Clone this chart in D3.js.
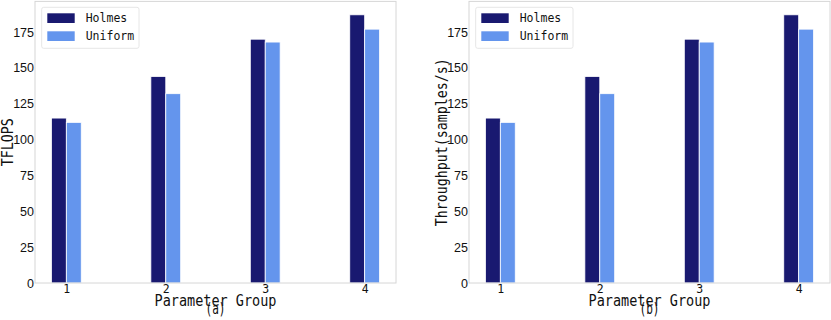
<!DOCTYPE html>
<html><head><meta charset="utf-8">
<script src="https://cdn.jsdelivr.net/npm/d3@7"></script>
<style>body{margin:0;background:#fff}</style>
</head><body>
<svg id="c" width="831" height="320"></svg>
<script>
const categories = ["1","2","3","4"];
const seriesNames = ["Holmes","Uniform"];
const holmesTflops = [115,144,170,187];
const uniformTflops = [112,132,168,177];
const holmesThroughput = [115,144,170,187];
const uniformThroughput = [112,132,168,177];
const yTicks = [0,25,50,75,100,125,150,175];
const colors = ["#191970","#6495ED"];
const panels = [
  {left:35, ylabel:"TFLOPS", ylen:48, sub:"(a)", data:[holmesTflops, uniformTflops]},
  {left:469, ylabel:"Throughput(samples/s)", ylen:168, sub:"(b)", data:[holmesThroughput, uniformThroughput]}
];
const mono = "'DejaVu Sans Mono', 'Liberation Mono', monospace";
const sans = "'Liberation Sans', Arial, sans-serif";
const svg = d3.select("#c");
const W = 361, yTop = 1.4, yBottom = 283;
panels.forEach(p => {
  const g = svg.append("g");
  const maxV = d3.max(p.data.flat());
  const x = d3.scaleLinear().domain([0.685, 4.315]).range([p.left, p.left + W]);
  const y = d3.scaleLinear().domain([0, maxV * 1.05]).range([yBottom, yTop]);
  const bw = 0.15;
  p.data.forEach((vals, si) => {
    g.selectAll(null).data(vals).enter().append("rect")
      .attr("x", (d,i) => x(i + 1 - bw + si*bw))
      .attr("width", x(bw) - x(0))
      .attr("y", d => y(d))
      .attr("height", d => y(0) - y(d))
      .attr("fill", colors[si])
      .attr("stroke", "#fff").attr("stroke-width", 0.8);
  });
  g.append("rect").attr("x", p.left).attr("y", yTop).attr("width", W).attr("height", yBottom - yTop)
    .attr("fill", "none").attr("stroke", "#d6d6d6").attr("stroke-width", 1);
  const ya = d3.axisLeft(y).tickValues(yTicks).tickSize(0).tickPadding(1);
  const yg = g.append("g").attr("transform", `translate(${p.left},0)`).call(ya);
  yg.select(".domain").remove();
  yg.selectAll("text").attr("font-family", sans).attr("font-size", 12.5).attr("fill", "#111");
  const xa = d3.axisBottom(x).tickValues([1,2,3,4]).tickFormat((d,i)=>categories[i]).tickSize(0).tickPadding(2);
  const xg = g.append("g").attr("transform", `translate(0,${yBottom})`).call(xa);
  xg.select(".domain").remove();
  xg.selectAll("text").attr("font-family", mono).attr("font-size", 11.5).attr("fill", "#111");
  const cx = p.left + W/2;
  const fitted = (sel, len) => sel.attr("font-family", mono).attr("font-size", 15.5).attr("fill", "#111")
    .attr("text-anchor", "start").attr("textLength", len).attr("lengthAdjust", "spacingAndGlyphs");
  fitted(g.append("text").attr("x", cx - 61).attr("y", 305.7), 122).text("Parameter Group");
  fitted(g.append("text").attr("x", cx - 10).attr("y", 314.3), 20).text(p.sub);
  fitted(g.append("text").attr("transform", `translate(${p.left - 22.5},${(yTop+yBottom)/2 + p.ylen/2}) rotate(-90)`), p.ylen)
    .text(p.ylabel);
  const lx = p.left + 6.7, ly = 7.3;
  g.append("rect").attr("x", lx).attr("y", ly).attr("width", 97.3).attr("height", 41).attr("rx", 2)
    .attr("fill", "#fff").attr("fill-opacity", 0.8).attr("stroke", "#e6e6e6").attr("stroke-width", 1);
  seriesNames.forEach((n, i) => {
    g.append("rect").attr("x", lx + 5.6).attr("y", ly + 6 + i*18).attr("width", 27.4).attr("height", 9.7)
      .attr("fill", colors[i]);
    g.append("text").attr("x", lx + 44).attr("y", ly + 15 + i*18)
      .attr("font-family", mono).attr("font-size", 11.5).attr("fill", "#111").text(n);
  });
});
</script>
</body></html>
